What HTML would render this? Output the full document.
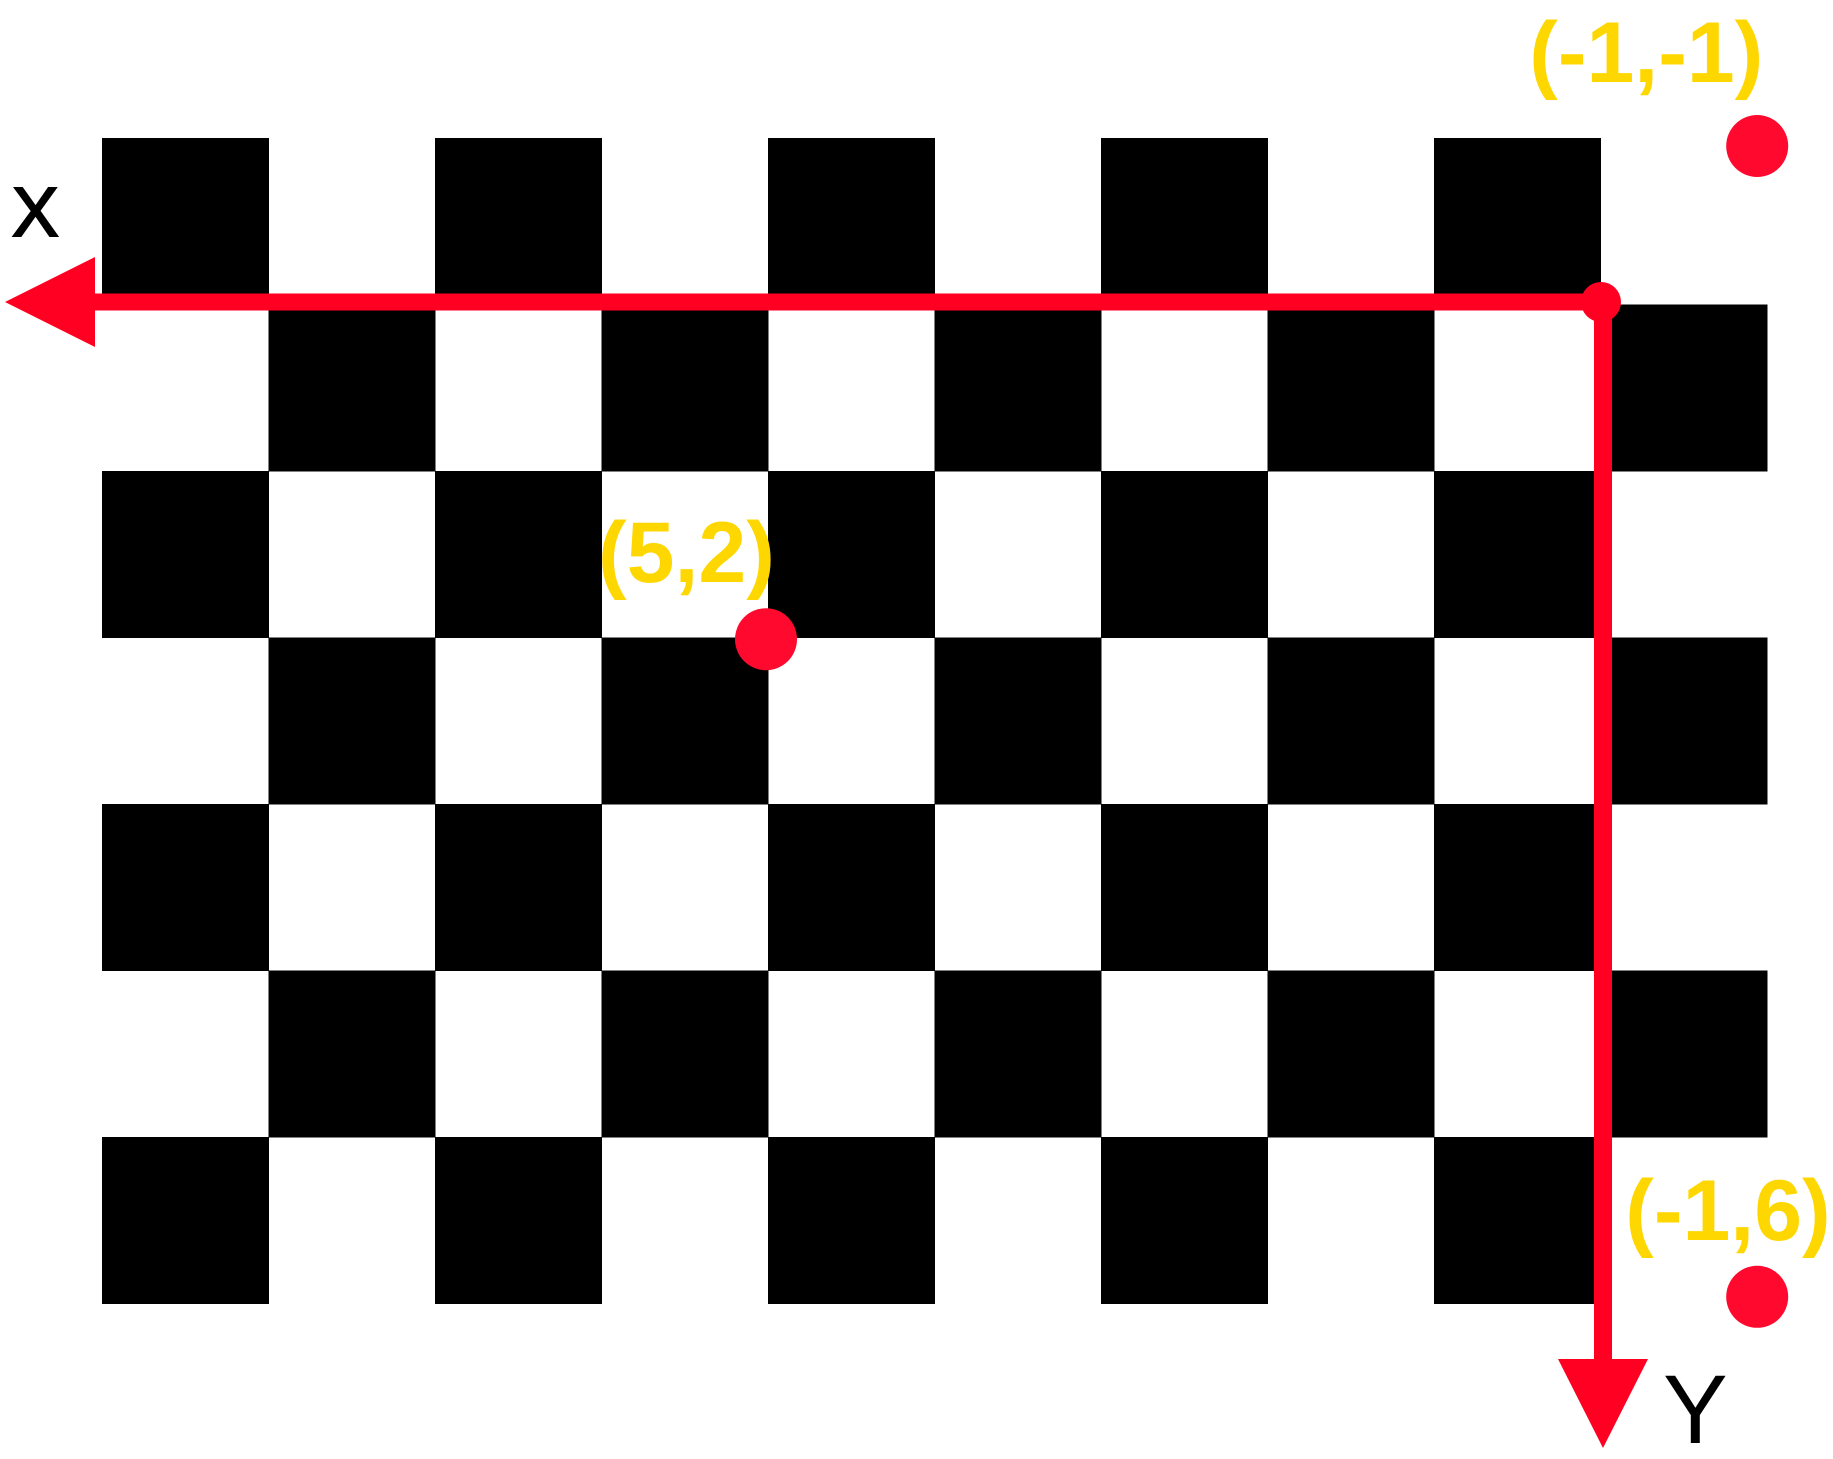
<!DOCTYPE html>
<html><head><meta charset="utf-8"><style>
html,body{margin:0;padding:0;background:#fff;}
svg{display:block;}
text{font-family:"Liberation Sans",sans-serif;}
</style></head>
<body>
<svg id="chart" width="1833" height="1459" viewBox="0 0 1833 1459" xmlns="http://www.w3.org/2000/svg">
<g id="board"></g>
<g id="axes">
  <line x1="90" y1="302" x2="1603" y2="302" stroke="#FF0022" stroke-width="17"/>
  <polygon points="5,302 95,257 95,347" fill="#FF0022"/>
  <line x1="1603" y1="302" x2="1603" y2="1365" stroke="#FF0022" stroke-width="18"/>
  <polygon points="1558,1359 1648,1359 1603,1448" fill="#FF0022"/>
  <circle cx="1601" cy="302" r="20" fill="#FF0022"/>
  <text x="12" y="236" font-size="70" fill="#000" stroke="#000" stroke-width="2">X</text>
  <text x="1663" y="1443" font-size="97" fill="#000">Y</text>
</g>
<g id="points"></g>
</svg>
<script>
var boardCols = 10;
var boardRows = 7;
var pointX = [-1, 5, -1];
var pointY = [-1, 2, 6];
var pointLabels = ["(-1,-1)", "(5,2)", "(-1,6)"];
</script>
<script>
(function(){
  var NS = "http://www.w3.org/2000/svg";
  var cell = 166.5, boardLeft = 102, boardTop = 138;
  function xPix(x){ return 1592 - x * 165.2; }
  function yPix(y){ return 310.4 + y * 164.4; }

  var board = document.getElementById('board');
  for (var r = 0; r < boardRows; r++) {
    for (var c = 0; c < boardCols; c++) {
      if ((r + c) % 2 === 0) {
        var el = document.createElementNS(NS, 'rect');
        el.setAttribute('x', boardLeft + c * cell);
        el.setAttribute('y', boardTop + r * cell);
        el.setAttribute('width', cell + 0.5);
        el.setAttribute('height', cell + 0.5);
        el.setAttribute('fill', '#000');
        
        
        board.appendChild(el);
      }
    }
  }

  var pts = document.getElementById('points');
  var lblDx = [-228, -168, -132];
  var lblDy = [-64, -57, -57];
  for (var i = 0; i < pointX.length; i++) {
    var cx = xPix(pointX[i]), cy = yPix(pointY[i]);
    var d = document.createElementNS(NS, 'circle');
    d.setAttribute('cx', cx);
    d.setAttribute('cy', cy);
    d.setAttribute('r', 31);
    d.setAttribute('fill', '#FF0A2E');
    
    
    pts.appendChild(d);
    var t = document.createElementNS(NS, 'text');
    t.setAttribute('x', cx + lblDx[i]);
    t.setAttribute('y', cy + lblDy[i]);
    t.setAttribute('font-size', '86');
    t.setAttribute('font-weight', 'bold');
    t.setAttribute('fill', '#FFD700');
    t.textContent = pointLabels[i];
    
    
    pts.appendChild(t);
  }
})();
</script>
</body></html>
